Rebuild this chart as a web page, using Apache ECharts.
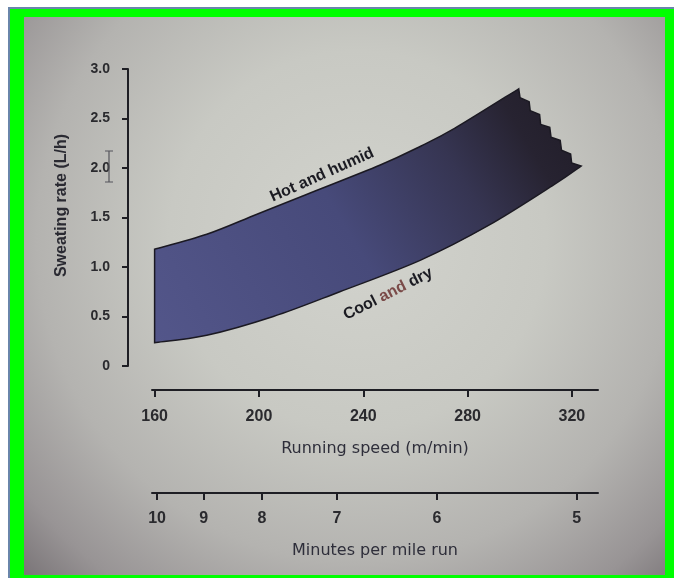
<!DOCTYPE html>
<html>
<head>
<meta charset="utf-8">
<script src="https://cdn.jsdelivr.net/npm/echarts@6/dist/echarts.min.js"></script>
<style>
  body { margin: 0; background: #ffffff; }
  #edge { position: absolute; left: 8px; top: 7px; width: 666px; height: 571px; border-left: 2px solid #6a86aa; border-top: 2px solid #6a86aa; box-sizing: border-box; }
  #green { position: absolute; left: 10px; top: 9px; width: 664px; height: 569px; background: #00ff00; }
  #photo { position: absolute; left: 24px; top: 17px; width: 641px; height: 558px;
    background: radial-gradient(ellipse at 52% 40%, #d2d3cd 0%, #c8c9c3 40%, #b4b3b0 68%, #989495 88%, #7a7578 100%); }
  #chart { position: absolute; left: 0; top: 0; width: 674px; height: 578px; }
</style>
</head>
<body>
<div id="edge"></div>
<div id="green"></div>
<div id="photo"></div>
<div id="chart"></div>
<script>
// axis ticks
const speedTicks = [160, 200, 240, 280, 320];
const minuteTicks = [10, 9, 8, 7, 6, 5];
const METERS_PER_MILE = 1609.344;

// upper edge of the band (hot and humid)
const hotSpeed = [160, 180, 199, 218, 246.5, 262, 275, 299.6];
const hotRate = [1.18, 1.33, 1.53, 1.73, 2.03, 2.22, 2.4, 2.8];

// torn right edge of the band, top to bottom
const tornSpeed = [300.1, 303.6, 304.0, 307.6, 308.0, 311.5, 312.0, 315.5, 316.0, 319.5, 319.9];
const tornRate = [2.71, 2.67, 2.58, 2.54, 2.44, 2.41, 2.31, 2.28, 2.18, 2.14, 2.05];

// lower edge of the band (cool and dry)
const coolSpeed = [160, 180, 205.5, 231, 262, 288, 313, 323.5];
const coolRate = [0.235, 0.31, 0.5, 0.75, 1.07, 1.42, 1.83, 2.02];

const chart = echarts.init(document.getElementById("chart"));

// smooth curve through points (catmull-rom to bezier)
function curveTo(pts) {
  let d = "";
  for (let i = 0; i < pts.length - 1; i++) {
    const p0 = pts[i - 1] || pts[i];
    const p1 = pts[i];
    const p2 = pts[i + 1];
    const p3 = pts[i + 2] || pts[i + 1];
    const c1 = [p1[0] + (p2[0] - p0[0]) / 6, p1[1] + (p2[1] - p0[1]) / 6];
    const c2 = [p2[0] - (p3[0] - p1[0]) / 6, p2[1] - (p3[1] - p1[1]) / 6];
    d += " C" + c1[0] + "," + c1[1] + " " + c2[0] + "," + c2[1] + " " + p2[0] + "," + p2[1];
  }
  return d;
}

function renderBand(params, api) {
  const hot = hotSpeed.map((s, i) => api.coord([s, hotRate[i]]));
  const torn = tornSpeed.map((s, i) => api.coord([s, tornRate[i]]));
  const cool = coolSpeed.map((s, i) => api.coord([s, coolRate[i]])).reverse();
  let d = "M" + hot[0][0] + "," + hot[0][1] + curveTo(hot);
  torn.forEach((p) => { d += " L" + p[0] + "," + p[1]; });
  d += " L" + cool[0][0] + "," + cool[0][1] + curveTo(cool) + " Z";
  return {
    type: "path",
    shape: { pathData: d },
    style: {
      fill: new echarts.graphic.LinearGradient(0, 1, 1, 0, [
        { offset: 0, color: "#53568a" },
        { offset: 0.45, color: "#474a7a" },
        { offset: 0.7, color: "#363552" },
        { offset: 0.85, color: "#272331" },
        { offset: 1, color: "#1f1b26" },
      ]),
      stroke: "#1b1922",
      lineWidth: 1.5,
    },
  };
}

const FONT = "DejaVu Sans, Liberation Sans, Arial, sans-serif";
const tickFont = { color: "#2a2a2e", fontSize: 16, fontWeight: "bold", fontFamily: "Liberation Sans, Arial, sans-serif" };
const nameFont = { color: "#2e2e3a", fontSize: 16, fontFamily: FONT };
const axisLine = { show: true, onZero: false, lineStyle: { color: "#1e1e24", width: 2 } };

const option = {
  animation: false,
  grid: { left: 152, right: 76, top: 69, bottom: 212 },
  xAxis: [
    {
      type: "value",
      min: 159,
      max: 330,
      position: "bottom",
      offset: 24,
      name: "Running speed (m/min)",
      nameLocation: "middle",
      nameGap: 51,
      nameTextStyle: nameFont,
      axisLine: axisLine,
      axisTick: { show: true, length: 7, customValues: speedTicks, lineStyle: { color: "#1e1e24", width: 2 } },
      axisLabel: Object.assign({ customValues: speedTicks, margin: 19 }, tickFont),
      splitLine: { show: false },
    },
    {
      type: "value",
      min: 159,
      max: 330,
      position: "bottom",
      offset: 127,
      name: "Minutes per mile run",
      nameLocation: "middle",
      nameGap: 50,
      nameTextStyle: nameFont,
      axisLine: axisLine,
      axisTick: {
        show: true,
        length: 7,
        customValues: minuteTicks.map((m) => METERS_PER_MILE / m),
        lineStyle: { color: "#1e1e24", width: 2 },
      },
      axisLabel: Object.assign(
        {
          customValues: minuteTicks.map((m) => METERS_PER_MILE / m),
          margin: 18,
          formatter: (v) => String(Math.round(METERS_PER_MILE / v)),
        },
        tickFont
      ),
      splitLine: { show: false },
    },
  ],
  yAxis: {
    type: "value",
    min: 0,
    max: 3,
    interval: 0.5,
    position: "left",
    offset: 24,
    name: "Sweating rate (L/h)",
    nameLocation: "middle",
    nameGap: 58,
    nameTextStyle: { color: "#2a2a32", fontSize: 16, fontWeight: "bold", fontFamily: "Liberation Sans, Arial, sans-serif", padding: [0, 0, 0, 24] },
    axisLine: axisLine,
    axisTick: { show: true, length: 6, lineStyle: { color: "#1e1e24", width: 2 } },
    axisLabel: Object.assign({ margin: 18, formatter: (v) => (v === 0 ? "0" : v.toFixed(1)) }, tickFont, { fontSize: 14 }),
    splitLine: { show: false },
  },
  series: [
    {
      type: "custom",
      xAxisIndex: 0,
      yAxisIndex: 0,
      silent: true,
      data: [0],
      renderItem: renderBand,
    },
  ],
  graphic: [
    {
      type: "text",
      x: 322,
      y: 175,
      rotation: 0.42,
      z: 10,
      style: {
        text: "Hot and humid",
        fill: "#1b1b22",
        fontSize: 16,
        fontWeight: "bold",
        fontFamily: "Liberation Sans, Arial, sans-serif",
        align: "center",
        verticalAlign: "middle",
      },
    },
    {
      type: "text",
      x: 388,
      y: 294,
      rotation: 0.47,
      z: 10,
      style: {
        text: "{a|Cool }{b|and}{a| dry}",
        fontSize: 16,
        fontWeight: "bold",
        fontFamily: "Liberation Sans, Arial, sans-serif",
        align: "center",
        verticalAlign: "middle",
        rich: {
          a: { fill: "#1b1b22", fontSize: 16, fontWeight: "bold" },
          b: { fill: "#7a4a48", fontSize: 16, fontWeight: "bold" },
        },
      },
    },
    {
      type: "polyline",
      z: 10,
      shape: { points: [[105, 151], [113, 151], [109, 151], [109, 182], [105, 182], [113, 182]] },
      style: { stroke: "#55555c", lineWidth: 1.2, fill: null },
    },
  ],
};

chart.setOption(option);
</script>
</body>
</html>
